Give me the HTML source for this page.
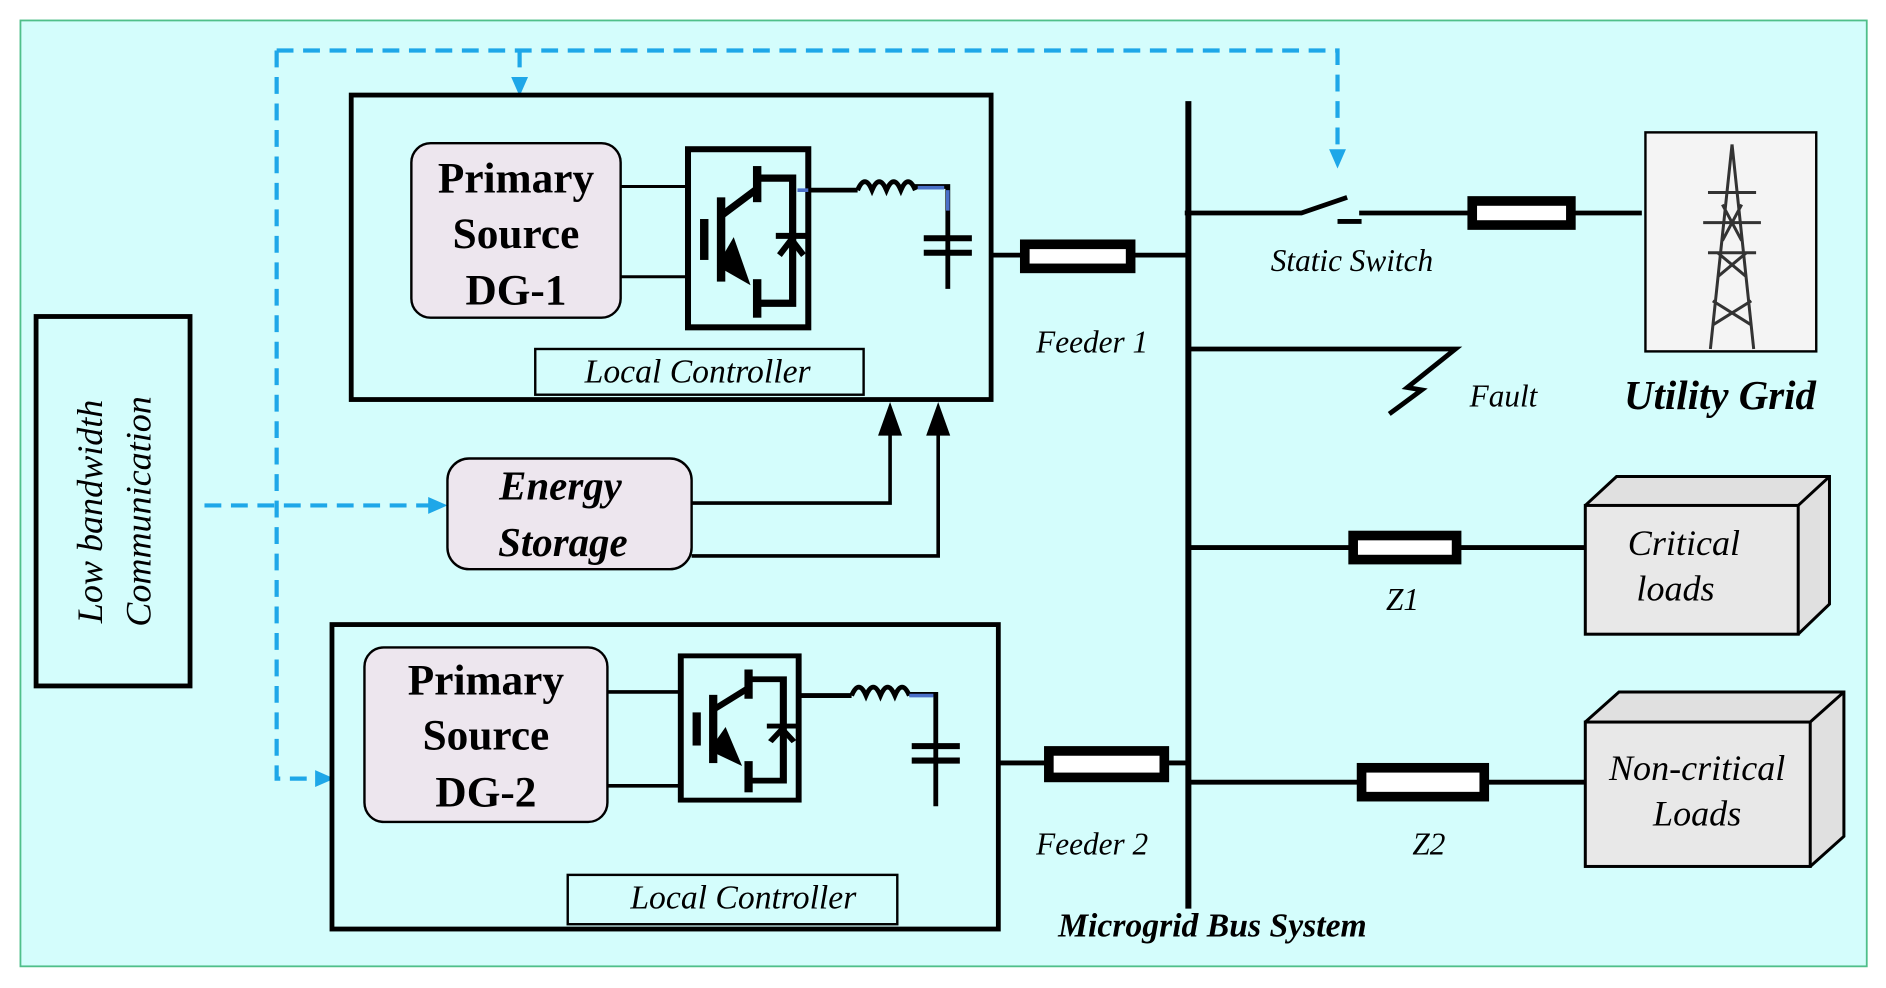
<!DOCTYPE html>
<html><head><meta charset="utf-8"><style>
html,body{margin:0;padding:0;background:#fff}
svg{display:block}
text{font-family:"Liberation Serif",serif}
</style></head><body>
<svg width="1886" height="988" viewBox="0 0 1568 821" preserveAspectRatio="none" xmlns="http://www.w3.org/2000/svg">
<defs>
<g id="inv">
<rect x="0" y="0" width="100" height="148" fill="none" stroke="#000" stroke-width="5"/>
<rect x="10" y="58" width="7" height="34" fill="#000"/>
<rect x="24" y="40" width="7" height="70" fill="#000"/>
<path d="M28,55 L56,34" stroke="#000" stroke-width="6"/>
<rect x="54" y="14" width="7" height="30" fill="#000"/>
<path d="M24,97 L38,73 L52,113 z" fill="#000"/>
<rect x="54" y="108" width="7" height="32" fill="#000"/>
<path d="M58,24 H87 V128 H58" fill="none" stroke="#000" stroke-width="6"/>
<path d="M73,72 H99 M76,88 L86,75 L96,88" fill="none" stroke="#000" stroke-width="5"/>
</g>
</defs>
<rect x="17" y="17" width="1535" height="786" fill="#d4fdfc" stroke="#4fbf8a" stroke-width="1.5"/>

<rect x="30" y="263" width="128" height="307" fill="none" stroke="#000" stroke-width="4"/>
<text transform="translate(85,425) rotate(-90)" text-anchor="middle" font-size="30" font-style="italic">Low bandwidth</text>
<text transform="translate(125,425) rotate(-90)" text-anchor="middle" font-size="30" font-style="italic">Communication</text>

<g stroke="#1ea7e8" stroke-width="3.5" fill="none" stroke-dasharray="14,8">
<path d="M230,42 H1112 V130"/>
<path d="M432,42 V72"/>
<path d="M230,42 V647 H268"/>
<path d="M170,420 H362"/>
</g>
<g fill="#1ea7e8">
<path d="M1105,124 L1119,124 L1112,140 z"/>
<path d="M425,64 L439,64 L432,80 z"/>
<path d="M262,640 L262,654 L278,647 z"/>
<path d="M356,413 L356,427 L372,420 z"/>
</g>

<rect x="292" y="79" width="532" height="253" fill="none" stroke="#000" stroke-width="4"/>
<rect x="342" y="119" width="174" height="145" rx="16" fill="#ede6ee" stroke="#000" stroke-width="2"/>
<g font-size="36" font-weight="bold" text-anchor="middle"><text x="429" y="160">Primary</text><text x="429" y="206">Source</text><text x="429" y="253">DG-1</text></g>
<path d="M516,155 H571 M516,230 H571" stroke="#000" stroke-width="2.5"/>
<use href="#inv" x="572" y="124"/>
<path d="M672,158 H713 M760,155 H788 V240" stroke="#000" stroke-width="4" fill="none"/>
<path d="M713,158 q6,-14 12,0 q6,-14 12,0 q6,-14 12,0 q6,-14 12,0" stroke="#000" stroke-width="4" fill="none"/>
<path d="M663,158 H672 M763,156 H785 M788,158 V175" stroke="#4a70c8" stroke-width="3"/>
<path d="M768,198 H808 M768,210 H808" stroke="#000" stroke-width="5"/>
<rect x="445" y="290" width="273" height="38" fill="none" stroke="#000" stroke-width="2"/>
<text x="580" y="318" font-size="28" font-style="italic" text-anchor="middle">Local Controller</text>

<rect x="372" y="381" width="203" height="92" rx="18" fill="#ede6ee" stroke="#000" stroke-width="2"/>
<g font-size="34" font-weight="bold" font-style="italic" text-anchor="middle"><text x="466" y="415">Energy</text><text x="468" y="462">Storage</text></g>
<path d="M575,418 H740 V350 M575,462 H780 V350" stroke="#000" stroke-width="3" fill="none"/>
<path d="M730,362 L740,334 L750,362 z M770,362 L780,334 L790,362 z" fill="#000"/>

<rect x="276" y="519" width="554" height="253" fill="none" stroke="#000" stroke-width="4"/>
<rect x="303" y="538" width="202" height="145" rx="16" fill="#ede6ee" stroke="#000" stroke-width="2"/>
<g font-size="36" font-weight="bold" text-anchor="middle"><text x="404" y="577">Primary</text><text x="404" y="623">Source</text><text x="404" y="670">DG-2</text></g>
<path d="M505,575 H566 M505,653 H566" stroke="#000" stroke-width="3"/>
<use href="#inv" transform="translate(566,545) scale(0.98,0.81)"/>
<path d="M664,578 H708 M756,577 H778 V670" stroke="#000" stroke-width="4" fill="none"/>
<path d="M708,578 q6,-14 12,0 q6,-14 12,0 q6,-14 12,0 q6,-14 12,0" stroke="#000" stroke-width="4" fill="none"/>
<path d="M756,578 H776" stroke="#4a70c8" stroke-width="3"/>
<path d="M758,620 H798 M758,632 H798" stroke="#000" stroke-width="5"/>
<rect x="472" y="727" width="274" height="41" fill="none" stroke="#000" stroke-width="2"/>
<text x="618" y="755" font-size="28" font-style="italic" text-anchor="middle">Local Controller</text>

<path d="M988,84 V755" stroke="#000" stroke-width="5"/>
<text x="1008" y="778" font-size="28" font-weight="bold" font-style="italic" text-anchor="middle">Microgrid Bus System</text>
<path d="M824,212 H988" stroke="#000" stroke-width="4"/>
<rect x="852" y="203" width="88" height="20" fill="#fff" stroke="#000" stroke-width="8"/>
<text x="908" y="293" font-size="26" font-style="italic" text-anchor="middle">Feeder 1</text>
<path d="M830,634 H988" stroke="#000" stroke-width="4"/>
<rect x="872" y="624" width="96" height="22" fill="#fff" stroke="#000" stroke-width="8"/>
<text x="908" y="710" font-size="26" font-style="italic" text-anchor="middle">Feeder 2</text>
<path d="M985,177 H1082 L1120,164 M1112,184 H1132 M1130,177 H1365" stroke="#000" stroke-width="4" fill="none"/>
<rect x="1224" y="167" width="82" height="20" fill="#fff" stroke="#000" stroke-width="8"/>
<text x="1124" y="225" font-size="26" font-style="italic" text-anchor="middle">Static Switch</text>
<rect x="1368" y="110" width="142" height="182" fill="#f4f4f4" stroke="#000" stroke-width="2"/>
<g stroke="#333" stroke-width="2.5" fill="none">
<path d="M1440,120 L1422,290 M1440,120 L1458,290 M1424,270 L1456,250 M1456,270 L1424,250 M1428,230 L1452,210 M1452,230 L1428,210 M1420,160 H1460 M1416,185 H1464 M1420,210 H1460 M1432,170 L1448,200 M1448,170 L1432,200"/>
</g>
<text x="1430" y="340" font-size="34" font-weight="bold" font-style="italic" text-anchor="middle">Utility Grid</text>
<path d="M988,290 H1210 L1170,322 L1182,324 L1155,344" stroke="#000" stroke-width="4" fill="none"/>
<text x="1250" y="338" font-size="26" font-style="italic" text-anchor="middle">Fault</text>
<path d="M988,455 H1318" stroke="#000" stroke-width="4"/>
<rect x="1125" y="445" width="86" height="20" fill="#fff" stroke="#000" stroke-width="8"/>
<text x="1166" y="507" font-size="26" font-style="italic" text-anchor="middle">Z1</text>
<path d="M1318,420 L1344,396 H1521 V502 L1495,527" fill="#e0e0e0" stroke="#000" stroke-width="2.5"/>
<path d="M1495,420 L1521,396" stroke="#000" stroke-width="2.5"/>
<rect x="1318" y="420" width="177" height="107" fill="#e8e8e8" stroke="#000" stroke-width="2.5"/>
<g font-size="30" font-style="italic" text-anchor="middle"><text x="1400" y="461">Critical</text><text x="1393" y="499">loads</text></g>
<path d="M988,650 H1318" stroke="#000" stroke-width="4"/>
<rect x="1132" y="638" width="102" height="24" fill="#fff" stroke="#000" stroke-width="8"/>
<text x="1188" y="710" font-size="26" font-style="italic" text-anchor="middle">Z2</text>
<path d="M1318,600 L1346,575 H1533 V695 L1505,720" fill="#e0e0e0" stroke="#000" stroke-width="2.5"/>
<path d="M1505,600 L1533,575" stroke="#000" stroke-width="2.5"/>
<rect x="1318" y="600" width="187" height="120" fill="#e8e8e8" stroke="#000" stroke-width="2.5"/>
<g font-size="30" font-style="italic" text-anchor="middle"><text x="1411" y="648">Non-critical</text><text x="1411" y="686">Loads</text></g>
</svg>
</body></html>
